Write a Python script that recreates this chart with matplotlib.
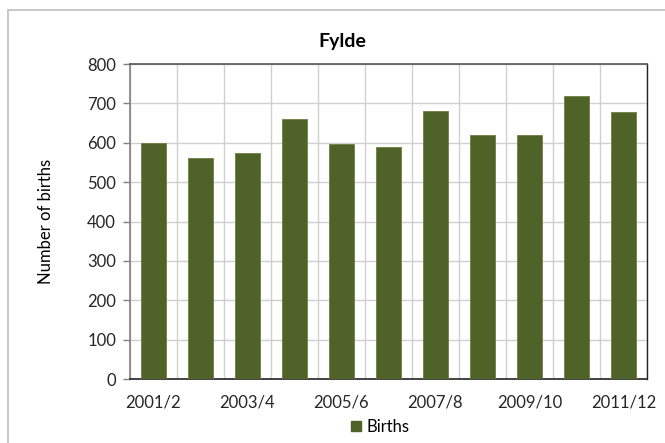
"""Fylde births per year, bar chart."""

import numpy as np
import matplotlib.pyplot as plt
from matplotlib.patches import Rectangle

YEARS = ["2001/2", "2002/3", "2003/4", "2004/5", "2005/6", "2006/7",
         "2007/8", "2008/9", "2009/10", "2010/11", "2011/12"]
BIRTHS = [599, 562, 573, 660, 597, 590, 680, 620, 620, 718, 677]

TITLE = "Fylde"
BAR_COLOR = "#4F6228"
FONT = ["Lato", "DejaVu Sans"]

plt.rcParams["font.family"] = FONT

# =============================================================================
fig = plt.figure(figsize=(6.65, 4.43), dpi=100)
# outer chart border (only left/top visible)
fig.patches.append(Rectangle((8 / 665, -0.1), 1.2, 1.1 - 10 / 443,
                             transform=fig.transFigure, fill=False,
                             edgecolor="#BFBFBF", linewidth=1.2))

ax = fig.add_axes([130 / 665, 64 / 443, 517 / 665, 315 / 443])
x = np.arange(len(YEARS))
ax.bar(x, BIRTHS, width=0.54, color=BAR_COLOR, edgecolor="#6B7F45",
       linewidth=0.6, zorder=3)

ax.set_xlim(-0.5, len(YEARS) - 0.5)
ax.set_ylim(0, 800)
ax.set_yticks(np.arange(0, 801, 100))
ax.set_xticks(x[::2])
ax.set_xticklabels(YEARS[::2])
ax.set_xticks(np.arange(-0.5, len(YEARS)), minor=True)

ax.grid(axis="y", color="#D0D0D0", linewidth=1, zorder=0)
ax.grid(axis="x", which="minor", color="#D0D0D0", linewidth=1, zorder=0)
ax.tick_params(axis="x", which="both", length=0, pad=11, labelsize=12,
               colors="#262626")
ax.tick_params(axis="y", length=5, width=1, color="#808080", pad=5,
               labelsize=12, colors="#262626")

ax.spines["left"].set_color("#808080")
ax.spines["left"].set_linewidth(1.2)
ax.spines["top"].set_color("#555555")
ax.spines["top"].set_linewidth(1.2)
ax.spines["bottom"].set_color("#222222")
ax.spines["bottom"].set_linewidth(1.2)
ax.spines["right"].set_color("#222222")
ax.spines["right"].set_linewidth(1.0)

ax.set_ylabel("Number of births", fontsize=12, labelpad=24, color="#000000")
fig.text(342 / 665, 1 - 41 / 443, TITLE, ha="center", va="center",
         fontsize=14, fontweight="bold")

handle = Rectangle((0, 0), 1, 1, color=BAR_COLOR)
fig.legend([handle], ["Births"], loc="center", bbox_to_anchor=(380 / 665, 1 - 427 / 443),
           frameon=False, fontsize=12, handlelength=0.6, handleheight=0.6,
           handletextpad=0.3)

fig.savefig("out.png", dpi=100)
print("Finished.")
